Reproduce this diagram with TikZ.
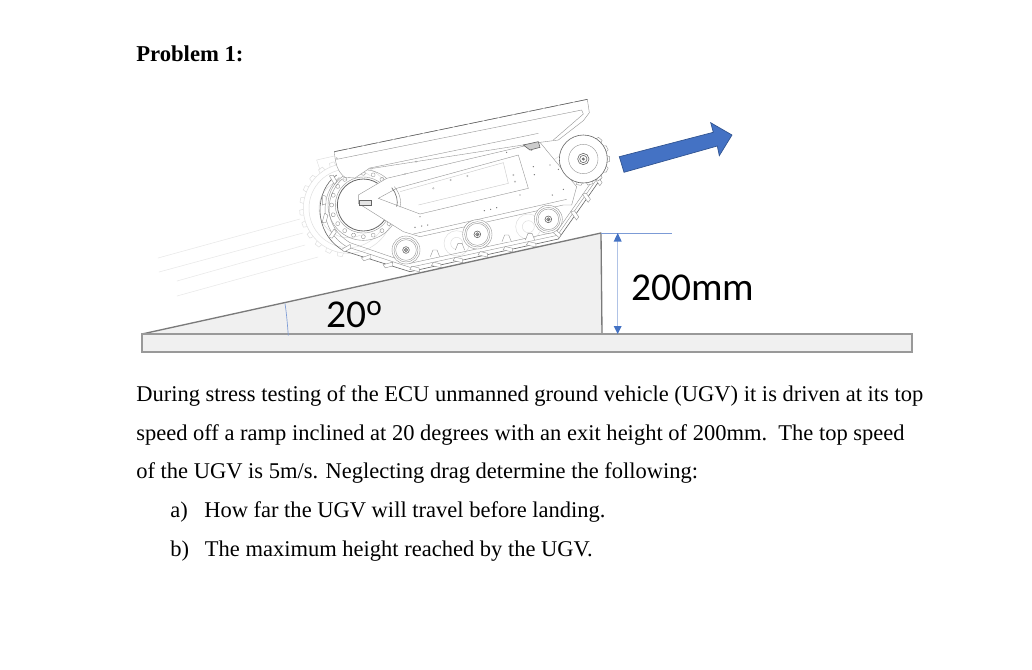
\documentclass[tikz,border=0pt]{standalone}
\usepackage{fontspec}
\setmainfont{Liberation Serif}
\newfontfamily\cali{Carlito}
\definecolor{office}{HTML}{4472C4}
\definecolor{officed}{HTML}{2F528F}
\definecolor{dimc}{HTML}{7C9BD6}
\tikzset{
  x=0.75pt,y=-0.75pt,
  body/.style={anchor=base west,inner sep=0pt,font=\fontsize{16.88}{20}\selectfont},
  dimtext/.style={anchor=base west,inner sep=0pt,font=\cali\fontsize{29.6}{32}\selectfont},
  ramp/.style={draw=black!52,fill=black!6,line width=1pt,line join=bevel},
  baseplate/.style={draw=black!40,fill=black!6,line width=1pt},
  ghost/.style={draw=black!13,line width=0.35pt},
  trail/.style={draw=black!9,line width=0.4pt},
  veh/.style={draw=black!42,line width=0.3pt},
  vehd/.style={draw=black!60,line width=0.45pt},
  dimline/.style={draw=dimc,line width=0.5pt},
  bluetip/.style={fill=office,draw=none},
}
\newcommand{\lug}[3]{% x y rotation
  \draw[veh,fill=white,shift={(#1,#2)},rotate=#3] (-15,-5) -- (-11,6) -- (11,6) -- (15,-5) -- cycle;}
\newcommand{\roadwheel}[3]{% x y radius
  \fill[white] (#1,#2) circle (#3);
  \draw[veh] (#1,#2) circle (#3);
  \draw[veh] (#1,#2) circle (#3-6);
  \draw[veh] (#1,#2) circle (#3-11);
  \draw[vehd] (#1,#2) circle (10);
  \draw[vehd] (#1,#2) circle (5);
  \fill[black!50] (#1,#2) circle (2.5);}
\begin{document}
\begin{tikzpicture}
\useasboundingbox (0,0) rectangle (1032,669);
\fill[white] (0,0) rectangle (1032,669);

% motion trails
\draw[trail] (158,258) -- (300,219);
\draw[trail] (159,272) -- (303,233);
\draw[trail] (177,281) -- (305,245);
\draw[trail] (177,296) -- (318,257);

% vehicle, in zoomed coordinates
\begin{scope}[shift={(300,90)},x=0.25pt,y=-0.25pt]
  % ghost copy behind
  \draw[ghost] (145,355) circle (135);
  \draw[ghost] (145,355) circle (118);
  \draw[ghost] (145,355) circle (88);
  \foreach \a in {110,125,...,260}{\draw[ghost,shift={(145,355)},rotate=\a] (135,-9) -- (146,-7) -- (146,7) -- (135,9);}
  \draw[ghost] (50,210) -- (103,198);
  \draw[ghost] (50,210) -- (60,240);
  \draw[ghost] (470,460) circle (38);
  \draw[ghost] (470,460) circle (18);
  \draw[ghost] (685,410) circle (38);
  \draw[ghost] (685,410) circle (18);
  \draw[ghost] (790,235) circle (38);
  \draw[ghost] (790,235) circle (18);

  % track
  \draw[vehd] (110,255) .. controls (45,300) and (35,425) .. (130,482) -- (330,545) -- (775,447) -- (905,262);
  \draw[veh] (125,268) .. controls (72,320) and (70,410) .. (150,458) -- (330,520) -- (770,425) -- (880,268);
  \draw[veh] (118,262) .. controls (60,310) and (55,420) .. (140,470) -- (330,532) -- (772,436) -- (892,265);
  \foreach \x/\y/\r in {100/268/-60,72/330/-90,75/385/-105,98/432/-125,140/475/-150,200/503/-160,265/525/-165,345/537/-13,410/525/-13,475/510/-13,550/493/-13,625/478/-13,695/463/-13,770/430/-40,825/375/-55,860/322/-55,895/272/-55}
    {\lug{\x}{\y}{\r+180}}
  \foreach \x/\y in {405/490,480/470,620/445,690/440}
    {\draw[veh,fill=white] (\x-14,\y+10) -- (\x-6,\y-10) -- (\x+6,\y-10) -- (\x+14,\y+10);}

  % drive sprocket
  \fill[white] (190,345) circle (90);
  \draw[vehd,line width=0.6pt] (190,345) circle (78);
  \draw[veh] (190,345) circle (84);
  \draw[veh] (190,345) circle (106);
  \foreach \a in {0,18,...,342}{\draw[veh,shift={(190,345)},rotate=\a] (95,0) circle (6);}

  % hull
  \draw[veh,fill=white] (175,315) -- (260,265) -- (720,157) -- (780,230) -- (830,290) -- (815,345) -- (790,345) -- (360,440) -- (310,425) -- (175,340) -- cycle;
  \draw[veh] (340,432) -- (800,328);
  \draw[veh,fill=white] (235,325) -- (290,295) -- (655,195) -- (685,295) -- (360,372) -- cycle;
  \draw[black!22,line width=0.3pt] (300,305) -- (610,218) -- (625,280) -- (355,345);
  \draw[vehd] (275,293) .. controls (290,310) and (295,335) .. (290,350);
  \draw[veh] (283,290) .. controls (300,310) and (305,335) .. (300,352);
  \draw[vehd,fill=black!10] (178,332) rectangle (215,345);

  % deck
  \draw[veh,fill=white] (103,185) -- (862,28) -- (868,68) -- (850,92) -- (775,150) -- (720,157) -- (205,237) -- (165,264) -- (135,262) .. controls (112,245) and (106,220) .. cycle;
  \draw[vehd,dash pattern=on 10pt off 1.5pt] (103,185) -- (862,28);
  \draw[veh] (110,208) -- (845,60) -- (850,72) -- (760,150);
  \draw[veh] (205,235) -- (715,130);
  \draw[vehd,fill=black!20] (670,165) -- (715,155) -- (720,172) -- (690,180) -- cycle;

  % holes
  \foreach \x/\y in {345/412,365/408,383/405,553/362,572/358,590/353,360/380,660/315,757/315,790/298,750/225,775/238,700/230,703/254,620/187,695/180,315/252}
    {\fill[black!55] (\x,\y) circle (2);}
  \foreach \x/\y in {452/270,502/258,400/295,640/255,645/275,348/215,110/205}
    {\draw[black!35,line width=0.25pt] (\x,\y) circle (2.5);}

  % front idler
  \fill[white] (850,207) circle (72);
  \foreach \a in {-100,-75,...,60}{\draw[veh,fill=white,shift={(850,207)},rotate=\a] (70,-10) -- (79,-7) -- (79,7) -- (70,10);}
  \draw[vehd] (850,207) circle (72);
  \draw[veh] (850,207) circle (44);
  \draw[vehd] (850,207) circle (17);
  \draw[vehd] (850,207) circle (11);
  \fill[black!55] (850,207) circle (5);

  % road wheels
  \roadwheel{318}{480}{42}
  \roadwheel{532}{433}{44}
  \roadwheel{745}{388}{42}
\end{scope}

% ramp and base
\draw[ramp] (142,334) -- (601,233) -- (602,334) -- cycle;
\draw[baseplate] (142,334) rectangle (912,352);

% blue direction arrow
\draw[fill=office,draw=officed,line width=0.5pt]
  (619.3,156.7) -- (713.3,132.3) -- (710.7,122.7) -- (732,135) -- (719.3,155.7) -- (717.3,146) -- (624,172.3) -- cycle;

% dimension and angle marks
\coordinate (dimtop) at (617.7,233);
\coordinate (dimbot) at (617.7,334);
\coordinate (extL) at (601,233);
\coordinate (extR) at (672,233);
\draw[dimline] (extL) -- (extR);
\draw[dimline,draw opacity=0.6] (dimtop) -- (dimbot);
\fill[bluetip] (dimtop) -- (613.7,241.5) -- (621.7,241.5) -- cycle;
\fill[bluetip] (dimbot) -- (613.7,326) -- (621.7,326) -- cycle;
\coordinate (angA) at (285,303.5);
\coordinate (angB) at (288.3,335.5);
\draw[dimline] (angA) .. controls (286.5,313) and (287.5,325) .. (angB);

% labels
\node[dimtext] (angle) at (326,327) {20\raisebox{9pt}{\fontsize{22}{22}\selectfont o}};
\node[dimtext] (height) at (631,300) {200mm};

% text
\node[body,font=\bfseries\fontsize{17}{20}\selectfont] (title) at (136,61) {Problem 1:};
\node[body] (l1) at (136,401) {During stress testing of the ECU unmanned ground vehicle (UGV) it is driven at its top};
\node[body] (l2) at (136,440) {speed off a ramp inclined at 20 degrees with an exit height of 200mm.\ \ The top speed};
\node[body] (l3) at (136,478.5) {of the UGV is 5m/s. Neglecting drag determine the following:};
\node[body] (l4) at (170,517) {\makebox[25.5pt][l]{a)}How far the UGV will travel before landing.};
\node[body] (l5) at (170,556) {\makebox[26pt][l]{b)}The maximum height reached by the UGV.};
\end{tikzpicture}
\end{document}
